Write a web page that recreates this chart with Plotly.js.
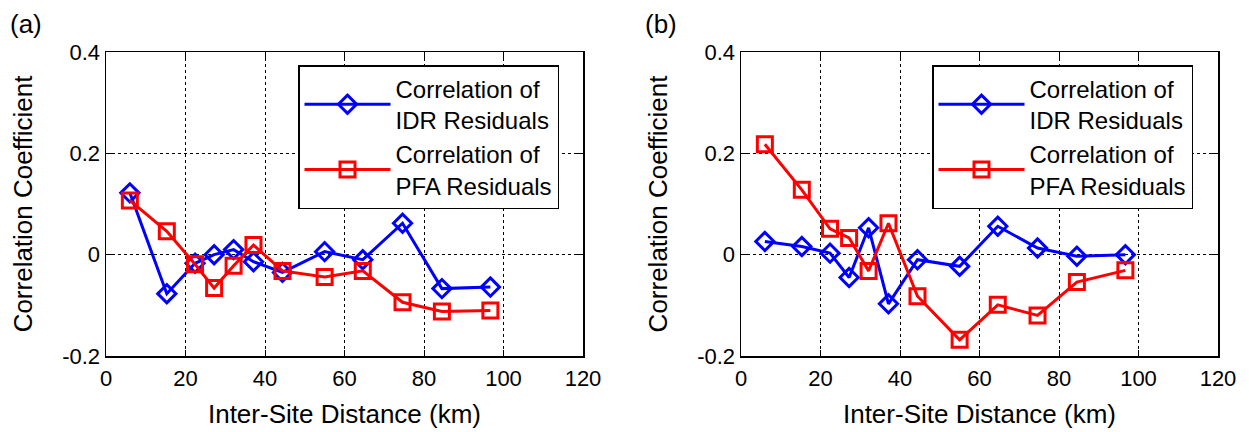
<!DOCTYPE html>
<html>
<head>
<meta charset="utf-8">
<script src="https://cdn.plot.ly/plotly-3.0.1.min.js"></script>
<style>html,body{margin:0;padding:0;background:#fff;}#chart{width:1249px;height:432px;}</style>
</head>
<body>
<div id="chart"></div>
<script>
// Inter-site distance bins (km)
const distance = [6, 15.3, 22.4, 27.2, 32.1, 37.1, 44.4, 55, 64.6, 74.6, 84.5, 96.7];

// Panel (a)
const idrA = [0.122, -0.077, -0.017, 0.0, 0.01, -0.014, -0.035, 0.006, -0.01, 0.062, -0.067, -0.064];
const pfaA = [0.107, 0.046, -0.019, -0.066, -0.022, 0.019, -0.032, -0.044, -0.032, -0.094, -0.112, -0.11];

// Panel (b)
const idrB = [0.026, 0.016, 0.003, -0.045, 0.053, -0.097, -0.01, -0.023, 0.056, 0.013, -0.003, 0.0];
const pfaB = [0.218, 0.128, 0.051, 0.033, -0.032, 0.062, -0.082, -0.168, -0.099, -0.12, -0.054, -0.031];

const idrName = "Correlation of<br>IDR Residuals";
const pfaName = "Correlation of<br>PFA Residuals";

const xTickVals = [0, 20, 40, 60, 80, 100, 120];
const xTickText = ["0", "20", "40", "60", "80", "100", "120"];
const yTickVals = [-0.2, 0, 0.2, 0.4];
const yTickText = ["-0.2", "0", "0.2", "0.4"];

const FONT = "Liberation Sans, Arial, sans-serif";
const BLUE = "#0000ff", RED = "#ff0000";

function idrTrace(y, xa, ya, lg) {
  return {x: distance, y: y, xaxis: xa, yaxis: ya, legend: lg, name: idrName, type: "scatter", mode: "lines+markers",
    line: {color: BLUE, width: 3},
    marker: {symbol: "diamond-open", size: 14, color: BLUE, line: {color: BLUE, width: 3}}};
}
function pfaTrace(y, xa, ya, lg) {
  return {x: distance, y: y, xaxis: xa, yaxis: ya, legend: lg, name: pfaName, type: "scatter", mode: "lines+markers",
    line: {color: RED, width: 3},
    marker: {symbol: "square-open", size: 15, color: RED, line: {color: RED, width: 3}}};
}

const traces = [
  idrTrace(idrA, "x", "y", "legend"),
  pfaTrace(pfaA, "x", "y", "legend"),
  idrTrace(idrB, "x2", "y2", "legend2"),
  pfaTrace(pfaB, "x2", "y2", "legend2")
];

function xAxis(domain, anchor) {
  return {domain: domain, anchor: anchor, range: [0, 120], tickvals: xTickVals, ticktext: xTickText,
    showline: true, linecolor: "#000", linewidth: 1.5, mirror: "allticks",
    ticks: "inside", ticklen: 6, tickcolor: "#000", tickwidth: 1,
    showgrid: true, gridcolor: "#000", gridwidth: 1, griddash: "3px,3px",
    zeroline: false, tickfont: {family: FONT, size: 22, color: "#000"}, ticklabelstandoff: 2,
    title: {text: "Inter-Site Distance (km)", font: {family: FONT, size: 26, color: "#000"}, standoff: 15},
    automargin: false};
}
function yAxis(domain, anchor) {
  return {domain: domain, anchor: anchor, range: [-0.2, 0.4], tickvals: yTickVals, ticktext: yTickText,
    showline: true, linecolor: "#000", linewidth: 1.5, mirror: "allticks",
    ticks: "inside", ticklen: 6, tickcolor: "#000", tickwidth: 1,
    showgrid: true, gridcolor: "#000", gridwidth: 1, griddash: "3px,3px",
    zeroline: false, tickfont: {family: FONT, size: 22, color: "#000"},
    title: {text: "Correlation Coefficient", font: {family: FONT, size: 26, color: "#000"}, standoff: 22},
    automargin: false};
}

const W = 1249, H = 432;
const yDom = [1 - 356 / H, 1 - 52 / H];

function legendCfg(xpx) {
  return {x: xpx / W, y: 1 - 65 / H, xanchor: "left", yanchor: "top", bgcolor: "#fff",
    bordercolor: "#000", borderwidth: 1.5, font: {family: FONT, size: 24, color: "#000"},
    tracegroupgap: 4, itemwidth: 86};
}

const layout = {
  width: W, height: H, margin: {l: 0, r: 0, t: 0, b: 0},
  paper_bgcolor: "#fff", plot_bgcolor: "#fff",
  showlegend: true,
  xaxis: xAxis([106 / W, 583 / W], "y"),
  yaxis: yAxis(yDom, "x"),
  xaxis2: xAxis([741 / W, 1218 / W], "y2"),
  yaxis2: yAxis(yDom, "x2"),
  legend: legendCfg(298),
  legend2: legendCfg(932),
  annotations: [
    {text: "(a)", x: 8 / W, y: 1 - 24 / H, xref: "paper", yref: "paper", xanchor: "left", yanchor: "middle",
      showarrow: false, font: {family: FONT, size: 26, color: "#000"}},
    {text: "(b)", x: 643 / W, y: 1 - 24 / H, xref: "paper", yref: "paper", xanchor: "left", yanchor: "middle",
      showarrow: false, font: {family: FONT, size: 26, color: "#000"}}
  ]
};

Plotly.newPlot("chart", traces, layout, {displayModeBar: false, staticPlot: true});
</script>
</body>
</html>
